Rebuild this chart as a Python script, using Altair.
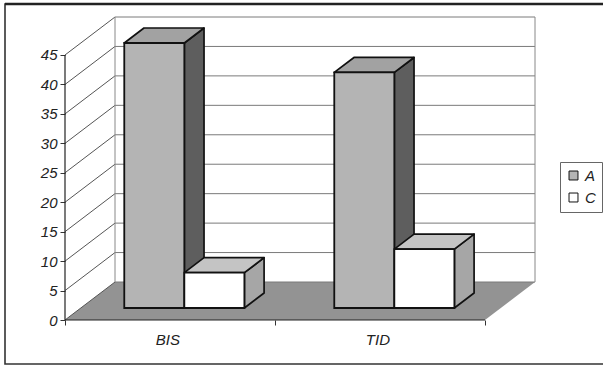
import altair as alt
import pandas as pd

# ---- data ----
categories = ["BIS", "TID"]
series = ["A", "C"]
values_A = [45, 40]
values_C = [6, 10]
y_ticks = [0, 5, 10, 15, 20, 25, 30, 35, 40, 45]

# ---- styling / pseudo-3D geometry (axis units) ----
PX_X = 210.0            # px per category unit
PX_Y = 5.889            # px per value unit
DX, DY = 50 / PX_X, 38 / PX_Y     # full depth vector of the plot box
F0, F1 = 0.316, 0.71               # bar front / back depth fractions
GAP, BW = 0.207, 0.286             # bar start inside a category, bar width
YMAX = 45 + DY
XMAX = 2 + DX

front_col = {"A": "#b4b4b4", "C": "#ffffff"}
top_col = {"A": "#a2a2a2", "C": "#c4c4c4"}
side_col = {"A": "#5e5e5e", "C": "#a6a6a6"}

front, top, side = [], [], []
for i, cat in enumerate(categories):
    for j, (s, vals) in enumerate(zip(series, [values_A, values_C])):
        v = vals[i]
        x0 = i + GAP + j * BW
        x1 = x0 + BW
        key = f"{cat}-{s}"
        front.append(dict(key=key, series=s, x=x0 + F0 * DX, x2=x1 + F0 * DX,
                          y=F0 * DY, y2=v + F0 * DY))
        top.append(dict(key=key, fill=top_col[s], y=v + F0 * DY,
                        x=x0 + F0 * DX, x2=x1 + F0 * DX))
        top.append(dict(key=key, fill=top_col[s], y=v + F1 * DY,
                        x=x0 + F1 * DX, x2=x1 + F1 * DX))
        side.append(dict(key=key, fill=side_col[s], x=x1 + F0 * DX,
                         y=F0 * DY, y2=v + F0 * DY))
        side.append(dict(key=key, fill=side_col[s], x=x1 + F1 * DX,
                         y=F1 * DY, y2=v + F1 * DY))

df_front = pd.DataFrame(front)
df_top = pd.DataFrame(top)
df_side = pd.DataFrame(side)

floor = pd.DataFrame([
    dict(y=0, x=0, x2=2),
    dict(y=DY, x=DX, x2=2 + DX),
])
ticks_df = pd.DataFrame({"v": y_ticks})
ticks_df["vb"] = ticks_df["v"] + DY
ticks_df["x"] = 0.0
ticks_df["xb"] = DX
ticks_df["xe"] = XMAX
cat_df = pd.DataFrame({"cat": categories, "xc": [i + 0.49 for i in range(len(categories))]})
edges_df = pd.DataFrame({"x": [DX, XMAX], "y": [DY, DY], "y2": [YMAX, YMAX]})

FONT = "Liberation Sans"
xs = alt.Scale(domain=[0, XMAX], nice=False, zero=False)
ys = alt.Scale(domain=[0, YMAX], nice=False, zero=False)

x_axis = alt.Axis(values=[0, 1, 2], labels=False, domain=False, grid=False,
                  tickSize=5, tickColor="#333", title=None)
y_axis = alt.Axis(values=y_ticks, domain=False, grid=False, tickSize=5,
                  tickColor="#333", labelFont=FONT, labelFontSize=15,
                  labelFontStyle="italic", labelColor="#222",
                  labelOverlap=False, labelPadding=3, title=None)


def X(f):
    return alt.X(f, scale=xs, axis=x_axis)


def Y(f):
    return alt.Y(f, scale=ys, axis=y_axis)


# frame around the chart
frame = alt.Chart(pd.DataFrame({"a": [0]})).mark_rect(
    fill=None, stroke="#333", strokeWidth=1.6
).encode(x=alt.value(-60), x2=alt.value(560), y=alt.value(-13), y2=alt.value(347))
frame_top = alt.Chart(pd.DataFrame({"a": [0]})).mark_rule(
    stroke="#222", strokeWidth=2.5
).encode(x=alt.value(-60), x2=alt.value(560), y=alt.value(-13))

floor_layer = alt.Chart(floor).mark_area(orient="horizontal", color="#939393").encode(
    y=Y("y:Q"), x=X("x:Q"), x2="x2:Q")

grid_back = alt.Chart(ticks_df).mark_rule(color="#7a7a7a", strokeWidth=1).encode(
    x=X("xb:Q"), x2="xe:Q", y=Y("vb:Q"))
grid_left = alt.Chart(ticks_df).mark_rule(color="#555", strokeWidth=1).encode(
    x=X("x:Q"), x2="xb:Q", y=Y("v:Q"), y2="vb:Q")
wall_edges = alt.Chart(edges_df).mark_rule(color="#888", strokeWidth=1).encode(
    x=X("x:Q"), y=Y("y:Q"), y2="y2:Q")

axis_y_line = alt.Chart(pd.DataFrame({"x": [0], "y": [0], "y2": [45]})).mark_rule(
    color="#222", strokeWidth=1.2).encode(x=X("x:Q"), y=Y("y:Q"), y2="y2:Q")
axis_x_line = alt.Chart(pd.DataFrame({"x": [0], "x2": [2], "y": [0]})).mark_rule(
    color="#222", strokeWidth=1.2).encode(x=X("x:Q"), x2="x2:Q", y=Y("y:Q"))

side_layer = alt.Chart(df_side).mark_area(
    orient="vertical", stroke="#111", strokeWidth=1.7, strokeJoin="round").encode(
    x=X("x:Q"), y=Y("y:Q"), y2="y2:Q",
    detail="key:N", fill=alt.Fill("fill:N", scale=None))

top_layer = alt.Chart(df_top).mark_area(
    orient="horizontal", stroke="#111", strokeWidth=1.7, strokeJoin="round").encode(
    y=Y("y:Q"), x=X("x:Q"), x2="x2:Q",
    detail="key:N", fill=alt.Fill("fill:N", scale=None))

front_layer = alt.Chart(df_front).mark_rect(stroke="#111", strokeWidth=1.8).encode(
    x=X("x:Q"), x2="x2:Q", y=Y("y:Q"), y2="y2:Q",
    fill=alt.Fill("series:N", scale=alt.Scale(domain=series,
                                               range=[front_col[s] for s in series]),
                  legend=alt.Legend(orient="none", legendX=495, legendY=145,
                                    title=None, symbolType="square", symbolSize=80,
                                    symbolStrokeColor="#222", symbolStrokeWidth=1,
                                    labelFont=FONT, labelFontSize=15,
                                    labelFontStyle="italic", labelColor="#222",
                                    strokeColor="#666", fillColor="white",
                                    padding=6, rowPadding=6)),
)

cat_text = alt.Chart(cat_df).mark_text(
    font=FONT, fontSize=15, fontStyle="italic", color="#222", baseline="middle").encode(
    x=X("xc:Q"), y=alt.value(323), text="cat:N")

chart = alt.layer(
    frame, frame_top, floor_layer, grid_back, grid_left, wall_edges,
    side_layer, top_layer, front_layer, axis_y_line, axis_x_line, cat_text
).properties(
    width=470, height=303,
    autosize=alt.AutoSizeParams(type="none"),
    padding={"left": 65, "top": 17, "right": 68, "bottom": 47},
    background="white",
).configure_view(stroke=None)

chart.save("out.html", embed_options={"renderer": "svg", "actions": False})
